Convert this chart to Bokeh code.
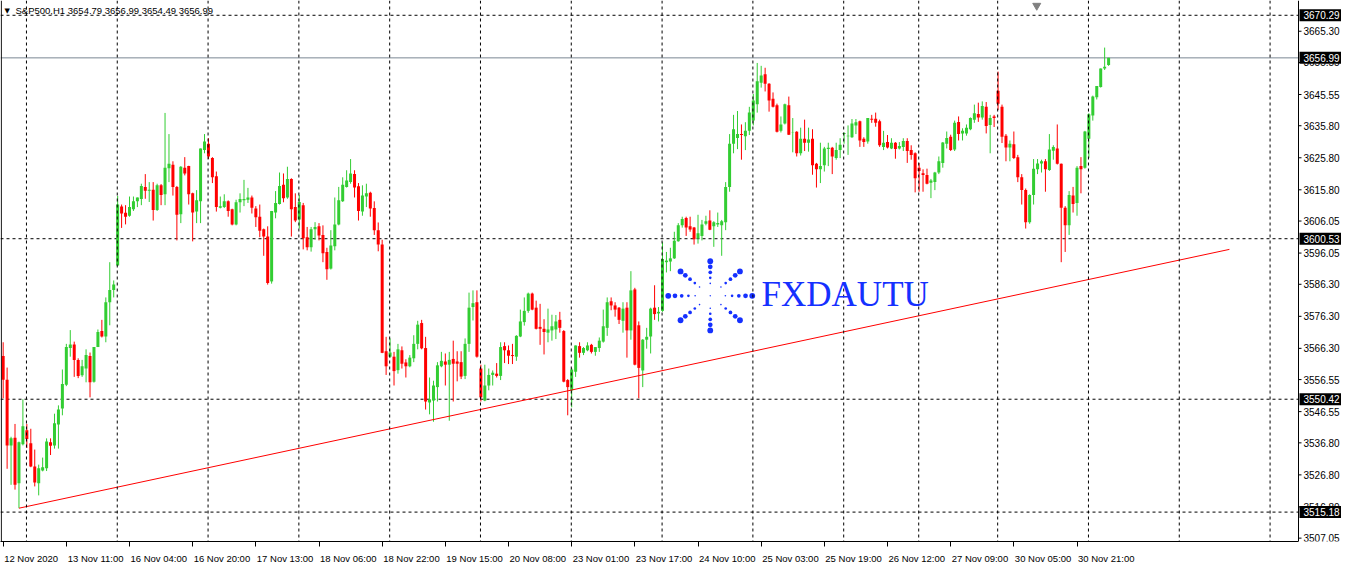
from bokeh.plotting import figure
from bokeh.models import (ColumnDataSource, FixedTicker, Span, Label, Range1d, LinearAxis)
from bokeh.embed import file_html
from bokeh.resources import INLINE
from bokeh.core.properties import value
import math

# ---------------- data (S&P500, H1) ----------------
opens = [3563.9, 3556.5, 3536.0, 3538.4, 3524.2, 3536.4, 3540.7, 3536.7, 3529.4, 3524.2,
         3528.2, 3528.9, 3537.0, 3536.0, 3542.5, 3547.5, 3554.9, 3566.4, 3567.5, 3562.7,
         3557.9, 3560.0, 3563.9, 3555.9, 3566.7, 3571.7, 3570.0, 3580.7, 3584.5, 3592.2,
         3610.6, 3608.6, 3607.7, 3609.7, 3612.2, 3612.9, 3616.7, 3615.5, 3615.8, 3609.5,
         3617.2, 3614.4, 3622.5, 3623.6, 3616.7, 3608.2, 3622.7, 3623.2, 3614.7, 3609.0,
         3612.2, 3628.2, 3630.2, 3625.7, 3620.0, 3610.2, 3610.4, 3612.2, 3609.7, 3605.0,
         3611.9, 3612.5, 3612.7, 3613.4, 3610.0, 3607.4, 3603.5, 3601.2, 3587.2, 3608.7,
         3611.4, 3617.4, 3613.4, 3619.2, 3610.4, 3606.5, 3611.0, 3601.0, 3597.9, 3603.5,
         3604.4, 3601.7, 3596.4, 3591.2, 3598.2, 3605.0, 3612.2, 3616.7, 3618.2, 3620.7,
         3616.9, 3609.0, 3613.7, 3614.9, 3610.1, 3603.2, 3598.7, 3565.4, 3563.7, 3563.7,
         3559.5, 3565.7, 3561.9, 3560.7, 3563.2, 3567.7, 3574.2, 3566.4, 3549.4, 3550.0,
         3554.2, 3560.7, 3562.2, 3561.2, 3563.0, 3562.2, 3562.0, 3557.7, 3567.7, 3579.2,
         3580.7, 3560.0, 3550.0, 3554.7, 3558.0, 3558.4, 3557.7, 3567.0, 3565.7, 3564.2,
         3563.7, 3570.0, 3574.5, 3578.0, 3583.4, 3579.0, 3573.0, 3572.4, 3571.2, 3571.9,
         3572.2, 3575.2, 3571.7, 3556.4, 3553.2, 3559.0, 3567.0, 3564.9, 3565.7, 3567.4,
         3565.2, 3566.4, 3568.4, 3572.7, 3581.0, 3579.7, 3579.0, 3574.9, 3579.0, 3571.9,
         3584.7, 3573.5, 3559.4, 3569.0, 3570.0, 3579.0, 3577.2, 3578.0, 3593.2, 3593.4,
         3594.4, 3599.7, 3604.7, 3607.0, 3604.4, 3604.0, 3600.7, 3601.4, 3605.2, 3606.2,
         3604.4, 3605.0, 3604.7, 3605.7, 3616.7, 3630.2, 3632.0, 3633.2, 3632.5, 3634.2,
         3637.4, 3642.5, 3649.2, 3651.9, 3648.9, 3644.2, 3642.2, 3634.2, 3636.5, 3642.2,
         3633.7, 3633.9, 3627.2, 3631.7, 3630.5, 3631.7, 3623.9, 3622.2, 3623.5, 3628.5,
         3628.9, 3625.7, 3628.2, 3633.2, 3632.5, 3632.2, 3635.9, 3637.2, 3631.7, 3630.9,
         3638.0, 3638.0, 3637.2, 3629.2, 3630.7, 3628.7, 3630.5, 3628.7, 3629.2, 3631.0,
         3628.2, 3627.2, 3622.7, 3621.0, 3620.4, 3618.0, 3618.2, 3621.2, 3624.2, 3630.2,
         3632.4, 3628.4, 3637.0, 3633.4, 3633.4, 3634.7, 3637.7, 3639.5, 3638.4, 3641.7,
         3636.0, 3638.7, 3646.7, 3641.7, 3632.7, 3629.0, 3630.0, 3626.0, 3619.7, 3615.7,
         3605.7, 3614.2, 3622.2, 3624.0, 3624.7, 3622.0, 3628.0, 3628.7, 3623.9, 3610.2,
         3604.7, 3614.0, 3611.7, 3623.2, 3622.7, 3631.7, 3639.0, 3644.7, 3647.9, 3653.7,
         3654.79]
highs = [3568.2, 3560.3, 3538.7, 3542.7, 3537.2, 3550.4, 3542.7, 3541.2, 3534.7, 3530.0,
         3532.2, 3538.2, 3538.2, 3545.9, 3548.5, 3559.7, 3567.7, 3572.0, 3568.4, 3563.2,
         3562.7, 3566.0, 3565.0, 3566.7, 3572.2, 3575.2, 3582.2, 3593.2, 3587.5, 3613.9,
         3611.2, 3611.0, 3613.7, 3613.7, 3613.4, 3617.7, 3620.7, 3618.2, 3618.2, 3617.7,
         3617.6, 3639.8, 3633.2, 3624.7, 3617.0, 3623.2, 3626.0, 3623.3, 3614.9, 3615.7,
         3628.7, 3633.2, 3631.9, 3626.0, 3621.5, 3613.7, 3614.4, 3612.5, 3609.9, 3612.7,
         3614.7, 3618.9, 3616.4, 3614.0, 3610.7, 3611.2, 3603.7, 3604.4, 3609.2, 3615.4,
         3621.2, 3620.9, 3623.0, 3619.4, 3614.7, 3614.2, 3611.7, 3604.2, 3604.2, 3605.7,
         3605.4, 3604.7, 3597.7, 3603.2, 3613.4, 3616.7, 3619.7, 3621.9, 3625.4, 3621.9,
         3617.9, 3617.2, 3617.7, 3615.2, 3612.2, 3605.6, 3600.2, 3569.9, 3569.4, 3565.2,
         3567.7, 3566.9, 3562.9, 3564.2, 3570.4, 3574.9, 3575.2, 3569.9, 3557.2, 3556.2,
         3562.0, 3565.2, 3564.7, 3565.2, 3568.7, 3565.4, 3565.4, 3569.4, 3583.7, 3584.4,
         3584.4, 3561.2, 3561.2, 3560.0, 3559.4, 3561.7, 3568.2, 3568.2, 3567.2, 3567.7,
         3570.4, 3578.4, 3582.2, 3583.7, 3583.7, 3581.2, 3580.2, 3575.4, 3578.7, 3576.8,
         3576.7, 3577.7, 3572.0, 3556.7, 3560.2, 3567.2, 3568.2, 3566.7, 3568.2, 3567.7,
         3566.7, 3569.7, 3578.4, 3582.2, 3582.2, 3580.7, 3579.2, 3580.7, 3580.7, 3590.4,
         3585.2, 3574.7, 3569.2, 3572.7, 3579.0, 3586.0, 3579.2, 3599.4, 3596.4, 3597.7,
         3602.7, 3605.4, 3607.4, 3607.4, 3607.4, 3604.2, 3608.0, 3606.4, 3607.7, 3609.4,
         3606.0, 3608.7, 3606.4, 3618.2, 3633.2, 3639.2, 3640.4, 3636.2, 3636.9, 3641.7,
         3645.7, 3655.4, 3654.5, 3653.9, 3649.1, 3646.2, 3642.7, 3638.7, 3642.7, 3644.9,
         3638.2, 3634.1, 3635.2, 3637.7, 3635.2, 3634.7, 3624.2, 3630.5, 3629.2, 3630.5,
         3629.2, 3630.5, 3631.9, 3633.7, 3635.9, 3637.9, 3637.9, 3637.4, 3632.2, 3638.2,
         3639.2, 3639.9, 3637.7, 3634.2, 3632.9, 3631.9, 3630.7, 3630.7, 3631.9, 3631.9,
         3629.7, 3627.5, 3624.2, 3622.2, 3622.4, 3619.2, 3621.4, 3626.2, 3630.7, 3634.0,
         3633.0, 3637.4, 3638.7, 3635.0, 3636.2, 3638.4, 3642.4, 3643.0, 3643.4, 3643.2,
         3639.2, 3639.2, 3652.7, 3642.4, 3633.2, 3631.2, 3634.0, 3626.7, 3620.7, 3616.2,
         3614.4, 3625.4, 3625.4, 3625.2, 3625.4, 3633.2, 3629.7, 3636.2, 3624.0, 3610.7,
         3615.4, 3616.7, 3623.2, 3626.0, 3634.2, 3639.7, 3645.2, 3648.2, 3653.7, 3660.2,
         3656.99]
lows = [3550.7, 3528.7, 3523.7, 3522.2, 3516.4, 3536.0, 3535.2, 3529.2, 3523.2, 3520.4,
        3527.9, 3528.0, 3533.0, 3535.0, 3535.0, 3545.4, 3554.5, 3563.7, 3557.4, 3557.0,
        3557.4, 3555.7, 3551.0, 3555.6, 3566.7, 3569.7, 3568.2, 3573.5, 3582.2, 3592.2,
        3603.9, 3605.0, 3607.4, 3609.2, 3610.4, 3611.0, 3613.0, 3612.0, 3606.2, 3609.2,
        3611.0, 3611.0, 3618.2, 3614.0, 3600.0, 3605.4, 3620.3, 3611.2, 3599.7, 3605.4,
        3605.4, 3627.2, 3625.4, 3617.9, 3609.0, 3610.0, 3610.1, 3607.4, 3604.7, 3604.7,
        3608.7, 3610.7, 3611.7, 3608.4, 3604.2, 3601.0, 3595.2, 3586.2, 3586.5, 3606.9,
        3611.2, 3611.9, 3613.0, 3601.2, 3605.7, 3603.7, 3597.2, 3596.9, 3596.5, 3600.2,
        3600.0, 3593.2, 3587.7, 3590.9, 3596.9, 3604.7, 3612.0, 3616.5, 3617.7, 3613.4,
        3606.2, 3607.7, 3610.4, 3607.4, 3601.7, 3596.6, 3564.8, 3558.0, 3563.4, 3554.7,
        3558.4, 3560.0, 3557.2, 3560.4, 3562.0, 3566.0, 3566.0, 3547.2, 3545.7, 3543.4,
        3549.7, 3560.4, 3554.7, 3543.7, 3549.7, 3556.0, 3556.7, 3556.7, 3565.2, 3575.0,
        3563.4, 3549.7, 3549.8, 3553.2, 3554.7, 3557.2, 3556.4, 3561.7, 3561.4, 3561.4,
        3562.4, 3569.8, 3573.4, 3577.4, 3578.2, 3572.2, 3567.4, 3564.4, 3568.2, 3568.7,
        3569.2, 3571.2, 3555.7, 3545.4, 3547.9, 3557.4, 3563.4, 3564.2, 3565.4, 3564.7,
        3564.0, 3565.2, 3568.1, 3570.2, 3578.2, 3576.2, 3573.9, 3571.2, 3563.4, 3569.0,
        3561.0, 3550.7, 3554.2, 3566.2, 3564.7, 3575.2, 3574.7, 3577.7, 3590.0, 3590.4,
        3594.2, 3599.6, 3604.0, 3601.4, 3602.7, 3598.7, 3599.0, 3600.0, 3604.7, 3603.2,
        3598.0, 3604.2, 3595.2, 3603.2, 3615.2, 3627.2, 3628.5, 3625.2, 3628.2, 3632.9,
        3635.9, 3639.9, 3647.7, 3646.5, 3640.2, 3641.5, 3633.7, 3633.7, 3636.2, 3632.9,
        3627.5, 3626.2, 3626.5, 3627.9, 3627.7, 3620.5, 3616.5, 3617.9, 3621.5, 3623.2,
        3620.7, 3625.2, 3625.7, 3630.2, 3626.7, 3632.0, 3633.2, 3629.2, 3629.2, 3630.2,
        3636.7, 3635.5, 3629.2, 3628.2, 3628.7, 3628.5, 3625.5, 3628.4, 3627.9, 3624.2,
        3625.2, 3615.0, 3615.2, 3615.2, 3617.5, 3613.2, 3615.7, 3620.7, 3622.7, 3628.7,
        3627.9, 3627.9, 3631.2, 3631.2, 3632.7, 3634.4, 3636.7, 3637.0, 3637.7, 3633.4,
        3627.2, 3635.4, 3640.7, 3630.4, 3624.7, 3624.7, 3625.4, 3618.2, 3611.2, 3603.7,
        3605.2, 3611.2, 3620.7, 3621.2, 3615.2, 3621.7, 3625.2, 3623.7, 3593.2, 3596.4,
        3601.7, 3608.7, 3607.7, 3614.7, 3622.4, 3625.7, 3637.4, 3644.0, 3647.7, 3653.2,
        3654.49]
closes = [3556.5, 3536.0, 3538.2, 3523.7, 3537.0, 3542.0, 3538.0, 3529.4, 3524.4, 3528.9,
          3529.2, 3537.2, 3535.9, 3542.9, 3547.2, 3555.2, 3566.7, 3567.5, 3562.7, 3557.7,
          3560.7, 3564.2, 3555.7, 3566.7, 3571.4, 3570.0, 3580.7, 3584.5, 3586.2, 3611.2,
          3608.4, 3607.4, 3610.4, 3612.2, 3613.4, 3617.0, 3615.5, 3615.8, 3609.5, 3617.2,
          3614.2, 3622.7, 3623.9, 3616.7, 3608.0, 3623.0, 3620.9, 3614.4, 3608.7, 3612.5,
          3628.7, 3630.9, 3626.2, 3619.7, 3610.4, 3610.7, 3612.2, 3609.2, 3605.0, 3611.9,
          3612.9, 3612.9, 3613.4, 3610.2, 3607.2, 3603.0, 3601.2, 3586.7, 3609.2, 3611.7,
          3617.0, 3613.2, 3619.2, 3609.7, 3606.2, 3612.0, 3600.7, 3597.9, 3603.5, 3604.2,
          3601.5, 3596.0, 3591.0, 3598.4, 3605.0, 3612.5, 3617.4, 3618.7, 3620.9, 3616.5,
          3609.2, 3614.0, 3614.7, 3610.0, 3603.2, 3598.7, 3564.9, 3560.7, 3565.0, 3559.2,
          3566.0, 3561.5, 3560.7, 3563.4, 3567.7, 3573.7, 3566.3, 3549.7, 3550.4, 3554.7,
          3561.0, 3562.4, 3561.2, 3562.7, 3561.5, 3561.5, 3557.5, 3567.7, 3579.0, 3580.4,
          3563.7, 3551.0, 3554.7, 3558.0, 3558.7, 3557.7, 3566.7, 3565.7, 3564.0, 3563.9,
          3570.2, 3574.7, 3578.0, 3583.4, 3578.4, 3572.4, 3572.4, 3571.4, 3572.2, 3573.2,
          3574.7, 3572.7, 3555.9, 3554.2, 3559.7, 3567.2, 3564.9, 3566.4, 3567.2, 3565.2,
          3566.7, 3568.7, 3573.2, 3580.7, 3579.7, 3578.4, 3575.2, 3578.7, 3571.9, 3584.4,
          3561.2, 3560.2, 3569.0, 3569.9, 3578.7, 3577.0, 3577.7, 3594.2, 3593.7, 3594.4,
          3599.9, 3604.7, 3606.7, 3604.0, 3603.4, 3600.4, 3602.2, 3605.0, 3606.0, 3603.3,
          3605.7, 3605.4, 3606.0, 3616.7, 3630.2, 3634.7, 3633.2, 3632.9, 3634.2, 3639.9,
          3643.7, 3649.7, 3651.5, 3648.9, 3643.7, 3641.7, 3633.9, 3636.2, 3642.5, 3633.0,
          3633.8, 3627.2, 3631.7, 3630.5, 3631.5, 3623.5, 3622.2, 3623.2, 3628.7, 3628.9,
          3626.2, 3628.2, 3629.9, 3633.5, 3632.7, 3636.5, 3636.9, 3631.2, 3630.7, 3638.2,
          3637.7, 3636.7, 3629.7, 3630.5, 3629.0, 3630.5, 3628.5, 3629.5, 3631.0, 3627.9,
          3626.7, 3619.4, 3621.7, 3620.4, 3617.7, 3618.7, 3621.2, 3624.7, 3630.6, 3632.0,
          3628.2, 3636.7, 3633.2, 3634.2, 3635.2, 3638.2, 3639.7, 3638.4, 3642.0, 3635.7,
          3638.2, 3638.2, 3642.7, 3632.4, 3629.0, 3630.2, 3625.7, 3619.7, 3615.7, 3605.7,
          3614.2, 3622.4, 3624.0, 3624.7, 3622.2, 3628.4, 3629.2, 3623.9, 3610.2, 3604.7,
          3614.2, 3611.4, 3622.7, 3622.2, 3634.0, 3639.4, 3644.9, 3648.2, 3653.7, 3654.2,
          3656.99]

time_labels = ["12 Nov 2020", "13 Nov 11:00", "16 Nov 04:00", "16 Nov 20:00", "17 Nov 13:00",
               "18 Nov 06:00", "18 Nov 22:00", "19 Nov 15:00", "20 Nov 08:00", "23 Nov 01:00",
               "23 Nov 17:00", "24 Nov 10:00", "25 Nov 03:00", "25 Nov 19:00", "26 Nov 12:00",
               "27 Nov 09:00", "30 Nov 05:00", "30 Nov 21:00"]
time_label_bars = [0, 16, 32, 48, 64, 80, 96, 112, 128, 144, 160, 176, 192, 208, 224, 240, 256, 272]
separator_bars = [5.9, 28.9, 51.9, 74.9, 97.9, 120.9, 143.9, 166.9, 189.9, 212.9,
                  231.9, 251.9, 274.9, 297.9, 320.9]
price_ticks = [3665.30, 3655.55, 3645.55, 3635.80, 3625.80, 3615.80, 3606.05, 3596.05,
               3586.30, 3576.30, 3566.30, 3556.55, 3546.55, 3536.80, 3526.80, 3516.80, 3507.05]
level_lines = [3670.29, 3600.53, 3550.42, 3515.18]
bid_price = 3656.99
trend_x = [4.0, 310.6]
trend_y = [3516.4, 3597.2]
header = "S&P500,H1  3654.79 3656.99 3654.49 3656.99"
watermark = "FXDAUTU"

# ---------------- geometry ----------------
W, H = 1341, 566
COL = 43                      # width of the price column (px)
X0, XA = -0.675, 328.1        # chart area in bar units; XA = price-axis line
PPB = (W - COL) / (XA - X0)   # pixels per bar
XE = XA + COL / PPB
Y0, Y1 = 3506.0, 3674.9
FONT = "Liberation Sans"
FS_T = 9.5                    # time labels (px)
FS_P = "10px"                 # price labels

p = figure(width=W, height=H, output_backend="svg", toolbar_location=None,
           x_range=Range1d(X0, XE), y_range=Range1d(Y0, Y1), y_axis_location=None,
           min_border_left=0, min_border_top=0, min_border_right=0, min_border_bottom=18)
p.xgrid.visible = False
p.ygrid.visible = False
p.outline_line_color = None

# bottom time axis: tick marks
p.xaxis.ticker = FixedTicker(ticks=time_label_bars)
p.xaxis.bounds = (X0, XA)
p.xaxis.major_tick_out = 5
p.xaxis.major_tick_in = 0
p.xaxis.minor_tick_line_color = None
p.xaxis.major_label_text_color = None
p.xaxis.axis_line_color = "black"

# bottom time axis: left-aligned labels (second axis, label centre shifted by half its width)
cw = {" ": 0.278, ":": 0.278, "N": 0.722, "o": 0.556, "v": 0.5}
def half_width_bars(s):
    return (sum(cw.get(ch, 0.556) for ch in s) * FS_T / 2 + 1) / PPB
lab_ticks = [b + half_width_bars(t) for b, t in zip(time_label_bars, time_labels)]
ax2 = LinearAxis(ticker=FixedTicker(ticks=lab_ticks),
                 major_label_overrides={k: t for k, t in zip(lab_ticks, time_labels)},
                 major_tick_line_color=None, minor_tick_line_color=None,
                 axis_line_color=None, major_label_standoff=0,
                 major_label_text_font=FONT, major_label_text_font_size="%.1fpx" % FS_T,
                 major_label_text_color="black")
p.add_layout(ax2, "below")

# left border and price-axis line
p.add_layout(Span(location=X0 + 0.8 / PPB, dimension="height", line_color="black", line_width=1))
p.add_layout(Span(location=XA, dimension="height", line_color="black", line_width=1))

# vertical separators
for b in separator_bars:
    p.add_layout(Span(location=b, dimension="height", line_color="black",
                      line_dash="3 3", line_width=1))
# horizontal levels (stop at the price axis)
p.segment(x0=[X0] * len(level_lines), y0=level_lines, x1=[XA] * len(level_lines),
          y1=level_lines, line_color="black", line_dash="3 3", line_width=1)
p.segment(x0=[X0], y0=[bid_price], x1=[XA], y1=[bid_price], line_color="#7A8793", line_width=1)

# candles
n = len(opens)
idx = list(range(n))
colors = ["#32CD32" if c >= o else "#FF0000" for o, c in zip(opens, closes)]
src = ColumnDataSource(dict(
    x=idx, o=opens, h=highs, l=lows, c=closes,
    top=[max(o, c) for o, c in zip(opens, closes)],
    bottom=[min(o, c) for o, c in zip(opens, closes)],
    color=colors))
p.segment(x0="x", y0="h", x1="x", y1="l", color="color", line_width=1, source=src)
p.vbar(x="x", width=0.76, top="top", bottom="bottom", fill_color="color",
       line_color=None, source=src)

# trend line
p.line(trend_x, trend_y, line_color="#FF0000", line_width=1)

# logo watermark (starburst of dots + text)
cx, cy = 179.1, 3582.7
py = (Y1 - Y0) / 548.0
lx, ly, ls = [], [], []
for k in range(8):
    ang = k * math.pi / 4
    for t in [0.36, 0.52, 0.68, 0.84, 1.0]:
        lx.append(cx + 42 * t * math.cos(ang) / PPB)
        ly.append(cy + 35 * t * math.sin(ang) * py)
        ls.append(2 * (0.8 + 2.1 * (t - 0.36) / 0.64))
lx.append(cx); ly.append(cy); ls.append(1.4)
p.scatter(lx, ly, size=ls, color="#1530ff", line_color=None)
p.add_layout(Label(x=192.1, y=3583.1, text=watermark, text_baseline="middle",
                   text_font="Liberation Serif", text_font_size="35px",
                   text_color="#1530ff"))

# header
p.add_layout(Label(x=X0, y=Y1, x_offset=4, y_offset=-6, text="\u25BC", text_baseline="top",
                   text_font="DejaVu Sans", text_font_size="7px", text_color="black"))
p.add_layout(Label(x=X0, y=Y1, x_offset=15, y_offset=-4, text=header, text_baseline="top",
                   text_font=FONT, text_font_size="9.5px", text_color="black"))

# chart-shift marker
p.scatter([261.8], [Y1 - 1.6], marker="inverted_triangle", size=8, color="#808080")

# price scale: tick marks + labels
nt = len(price_ticks)
p.segment(x0=[XA] * nt, y0=price_ticks, x1=[XA + 3 / PPB] * nt, y1=price_ticks,
          line_color="black", line_width=1)
p.text(x=[XA] * nt, y=price_ticks, text=["%.2f" % v for v in price_ticks], x_offset=5,
       text_baseline="middle", text_align="left", text_font=value(FONT),
       text_font_size=FS_P, text_color="black")

# price boxes (levels + bid)
boxes = level_lines + [bid_price]
nb = len(boxes)
p.rect(x=[XA + (COL / 2 + 0.5) / PPB] * nb, y=boxes, width=COL - 1, height=12,
       width_units="screen", height_units="screen", fill_color="black", line_color=None)
p.text(x=[XA] * nb, y=boxes, text=["%.2f" % v for v in boxes], x_offset=5,
       text_baseline="middle", text_align="left", text_font=value(FONT),
       text_font_size=FS_P, text_color="white")

open("out.html", "w").write(file_html(p, INLINE))
